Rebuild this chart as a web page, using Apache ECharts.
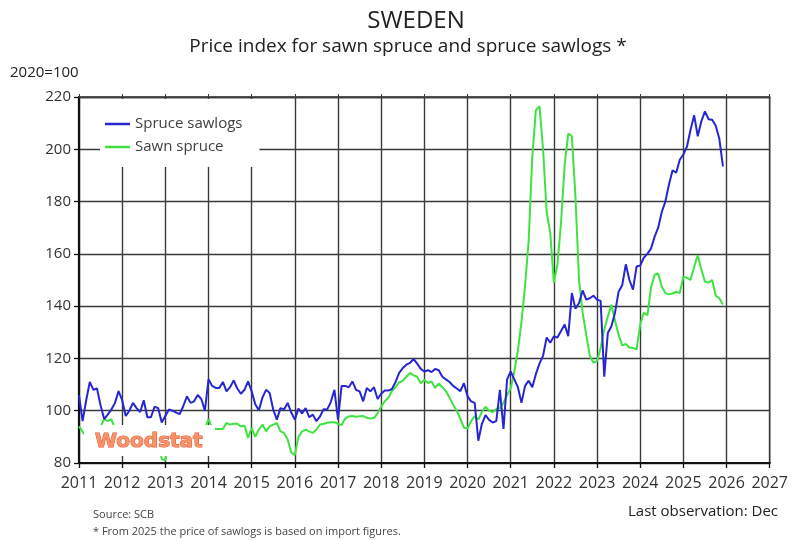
<!DOCTYPE html>
<html>
<head>
<meta charset="utf-8">
<script src="https://cdn.jsdelivr.net/npm/echarts@6/dist/echarts.min.js"></script>
<style>
  html, body { margin: 0; padding: 0; background: #ffffff; }
  #chart { width: 791px; height: 540px; }
</style>
</head>
<body>
<div id="chart"></div>
<script>
// ---- Data (monthly, Jan 2011 - Dec 2025), index 2020 = 100 ----
const firstYear = 2011;
const lastAxisYear = 2027;

const seriesNames = ['Spruce sawlogs', 'Sawn spruce'];

const spruceSawlogs = [
  106, 96, 104, 111, 108, 108.5, 102, 96.8, 98.5, 100.5, 103, 107.5,      // 2011
  104, 98, 100, 103, 101, 99.5, 104, 97.5, 97.5, 101.5, 101, 95.5,        // 2012
  98, 100.5, 100, 99.3, 98.7, 101.8, 105.5, 103, 103.6, 106, 104.5, 100,  // 2013
  112, 109.5, 108.7, 108.7, 111, 107.4, 109, 111.6, 108.5, 106.5, 108, 111.2, // 2014
  107.4, 102.5, 100.2, 105, 108, 106.8, 100.4, 96.6, 101, 100.5, 103, 99.3,   // 2015
  96.6, 100.8, 99, 101, 97.5, 98.5, 96, 97.8, 100.6, 100.5, 103.3, 108,       // 2016
  96.6, 109.5, 109.5, 109, 111.2, 108, 107.4, 103.6, 108.7, 107.4, 109, 104.5, // 2017
  106.5, 107.7, 107.7, 108.3, 111, 114.5, 116.3, 117.6, 118.3, 119.8, 118, 116, // 2018
  115, 115.5, 114.8, 116, 115.5, 113, 112, 111, 109.5, 108.5, 107.5, 110.5,   // 2019
  105.5, 103.6, 103, 88.5, 95, 98.3, 96.5, 95.5, 96, 108, 93, 112,            // 2020
  115, 112, 109, 103, 109.5, 111.5, 109, 114, 118, 121, 128, 126,             // 2021
  128.4, 128, 130.5, 133, 128.5, 145, 139, 141.2, 146, 142.5, 143, 144,       // 2022
  142.5, 142, 113, 129.7, 132.3, 137.5, 145.5, 148, 156, 150, 146.3, 155.2,   // 2023
  155.5, 158.5, 160, 162, 166.5, 170, 176, 180, 186.5, 192, 191, 196,         // 2024
  198, 201, 207.5, 213, 205, 210.7, 214.5, 211.5, 211.3, 209, 204, 193.5      // 2025
];

const sawnSpruce = [
  94, 92, 90, 91, 92, 93, 94, 96.8, 96, 96.8, 93, 91,                     // 2011
  90, 89, 88, 89, 90, 91, 92, 91, 90, 91, 90, 81.5,                       // 2012
  81, 88, 89, 90, 91, 92, 93, 93, 92, 92, 93, 93,                         // 2013
  96.8, 93.5, 93, 93, 93, 95.3, 94.7, 95, 95, 94, 94.3, 89.6,             // 2014
  93.4, 90, 92.8, 94.7, 92.1, 94, 94.7, 95.3, 92.1, 91.5, 89, 84,         // 2015
  83, 90, 92, 92.8, 92.1, 91.5, 92.8, 94.7, 95, 95.4, 95.6, 95.6,         // 2016
  95, 94.5, 97, 97.8, 98, 97.7, 97.9, 98, 97.3, 97, 97.2, 99,             // 2017
  101.6, 103.6, 105, 107.5, 109, 110.8, 111.4, 113, 114.5, 113.5, 113, 110.5, // 2018
  111.8, 110.6, 111.2, 108.7, 110.4, 109, 107.5, 105, 102.3, 100, 97, 93.5,   // 2019
  93.3, 96, 98, 96.6, 99.5, 101.5, 100, 99.5, 100.7, 101, 103, 106,       // 2020
  108.5, 115, 123, 134, 148, 165, 197, 215, 216.5, 200, 176, 168,         // 2021
  149, 156, 172, 194, 206, 205, 182, 150, 137.5, 129, 121, 118.3,         // 2022
  119, 124, 131, 136, 140.5, 134.5, 129, 125, 125.5, 124.2, 124, 123.5,   // 2023
  133, 137.5, 136.5, 147, 152, 152.5, 147.5, 145, 144.5, 144.8, 145.5, 145, // 2024
  151.3, 150.8, 150, 155, 159.5, 154, 149.3, 149, 150, 144, 143, 140.6    // 2025
];

const yTicks = { min: 80, max: 220, step: 20 };

// monthly categories from Jan 2011 up to Jan 2027 (axis end)
const months = [];
for (let y = firstYear; y < lastAxisYear; y++) {
  for (let m = 1; m <= 12; m++) months.push(y + '-' + String(m).padStart(2, '0'));
}
months.push(lastAxisYear + '-01');

const isYearStart = (i) => i % 12 === 0;

const FONT = "'Open Sans', 'Noto Sans', sans-serif";
const GRID_COLOR = '#3a3a3a';
const AXIS_COLOR = '#111111';
const BLUE = '#2626d2';
const GREEN = '#3fe33f';

const chart = echarts.init(document.getElementById('chart'), null, { renderer: 'canvas' });

const option = {
  backgroundColor: '#ffffff',
  animation: false,
  textStyle: { fontFamily: FONT },
  grid: {
    left: 79, right: 21, top: 97, bottom: 77,
    show: true, borderColor: GRID_COLOR, borderWidth: 1.4, backgroundColor: 'transparent'
  },
  legend: {
    data: seriesNames,
    orient: 'vertical',
    left: 100, top: 99,
    icon: 'rect',
    itemWidth: 25, itemHeight: 2.5,
    itemGap: 5,
    padding: [16, 17, 11, 5],
    backgroundColor: '#ffffff',
    textStyle: { fontFamily: FONT, fontSize: 15, color: '#404040', lineHeight: 18 },
    z: 10
  },
  xAxis: [
    {
      type: 'category',
      data: months,
      boundaryGap: false,
      axisLine: { show: true, lineStyle: { color: AXIS_COLOR, width: 2.2 } },
      axisTick: { show: true, interval: isYearStart, length: 5, lineStyle: { color: AXIS_COLOR, width: 1.3 } },
      axisLabel: {
        interval: isYearStart,
        formatter: (v) => v.slice(0, 4),
        fontFamily: FONT, fontSize: 16, color: '#333333', margin: 12
      },
      splitLine: { show: true, interval: isYearStart, lineStyle: { color: GRID_COLOR, width: 1.4 } }
    },
    {
      type: 'category',
      data: months,
      boundaryGap: false,
      position: 'top',
      axisLine: { show: true, lineStyle: { color: GRID_COLOR, width: 1.4 } },
      axisTick: { show: true, interval: isYearStart, length: 3, lineStyle: { color: GRID_COLOR, width: 1 } },
      axisLabel: { show: false },
      splitLine: { show: false }
    }
  ],
  yAxis: {
    type: 'value',
    min: yTicks.min, max: yTicks.max, interval: yTicks.step,
    axisLine: { show: true, lineStyle: { color: AXIS_COLOR, width: 2.2 } },
    axisTick: { show: true, length: 5, lineStyle: { color: AXIS_COLOR, width: 1.3 } },
    axisLabel: { fontFamily: FONT, fontSize: 15, color: '#333333', margin: 8 },
    splitLine: { show: true, lineStyle: { color: GRID_COLOR, width: 1.4 } }
  },
  series: [
    {
      name: seriesNames[0], type: 'line', data: spruceSawlogs,
      symbol: 'none', color: BLUE, lineStyle: { color: BLUE, width: 2 }, z: 3
    },
    {
      name: seriesNames[1], type: 'line', data: sawnSpruce,
      symbol: 'none', color: GREEN, lineStyle: { color: GREEN, width: 2 }, z: 2
    }
  ],
  graphic: [
    { type: 'text', x: 416, y: 21, z: 100,
      style: { text: 'SWEDEN', fontFamily: FONT, fontSize: 24, fill: '#222222', textAlign: 'center', textVerticalAlign: 'middle' } },
    { type: 'text', x: 408, y: 47, z: 100,
      style: { text: 'Price index for sawn spruce and spruce sawlogs *', fontFamily: FONT, fontSize: 19, fill: '#222222', textAlign: 'center', textVerticalAlign: 'middle' } },
    { type: 'text', x: 10, y: 73, z: 100,
      style: { text: '2020=100', fontFamily: FONT, fontSize: 15, fill: '#222222', textAlign: 'left', textVerticalAlign: 'middle' } },
    { type: 'rect', z: 50, shape: { x: 84, y: 425, width: 131, height: 31 }, style: { fill: '#ffffff' } },
    { type: 'text', x: 95, y: 442, z: 60,
      style: { text: 'Woodstat', fontFamily: "'DejaVu Sans', sans-serif", fontWeight: 'bold', fontSize: 20, fill: '#f6936a', stroke: '#e8532a', lineWidth: 1, textAlign: 'left', textVerticalAlign: 'middle' } },
    { type: 'text', x: 93, y: 515, z: 100,
      style: { text: 'Source: SCB', fontFamily: FONT, fontSize: 11, fill: '#444444', textAlign: 'left', textVerticalAlign: 'middle' } },
    { type: 'text', x: 93, y: 532, z: 100,
      style: { text: '* From 2025 the price of sawlogs is based on import figures.', fontFamily: FONT, fontSize: 11, fill: '#444444', textAlign: 'left', textVerticalAlign: 'middle' } },
    { type: 'text', x: 778, y: 512, z: 100,
      style: { text: 'Last observation: Dec', fontFamily: FONT, fontSize: 15, fill: '#222222', textAlign: 'right', textVerticalAlign: 'middle' } }
  ]
};

chart.setOption(option);
</script>
</body>
</html>
